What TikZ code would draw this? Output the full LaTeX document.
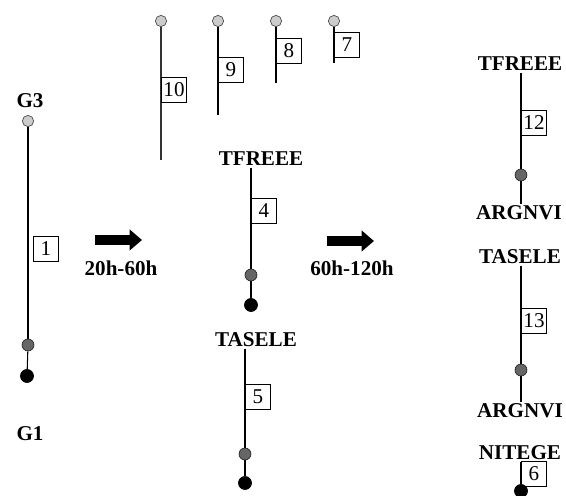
\documentclass[tikz,border=0pt]{standalone}
\usepackage{fontspec}
\setmainfont{Liberation Serif}
\usetikzlibrary{arrows.meta,calc}
\tikzset{
  cir_l/.style = {circle, draw=black!70, fill=black!20, inner sep=0pt, minimum size=6.4pt},
  cir_d/.style = {circle, draw=black!85, fill=black!60, inner sep=0pt, minimum size=6.8pt},
  cir_b/.style = {circle, draw=black, fill=black, inner sep=0pt, minimum size=7.4pt},
  num_b/.style = {draw, anchor=west, inner sep=1pt, minimum width=14.4pt, minimum height=14.6pt, font=\fontsize{12}{13}\selectfont},
  lab_g/.style = {font=\fontsize{12}{13}\selectfont\bfseries, inner sep=1pt},
  stem/.style = {line width=0.6pt},
  fat_arr/.style = {line width=5.7pt, -{Triangle[length=7pt,width=11.5pt]}}
}

\begin{document}
\begin{tikzpicture}[x=0.02cm, y=-0.02cm]
\useasboundingbox (0,0) rectangle (566,496);

% starting chain
\node [lab_g] (g3) at (30,101) {G3};
\node [cir_l] (lc1) at (28,121) {};
\node [cir_d] (dc1) at (28,345) {};
\node [cir_b] (bc1) at (27,376) {};
\node [lab_g] (g1) at (30,434) {G1};
\draw [stem] (lc1) -- (dc1);
\draw [stem] (dc1) -- (bc1);
\node [num_b] (n1) at (33,249) {1};

% fragments cut off at the top
\node [cir_l] (lc10) at (161,21) {};
\coordinate (e10) at (161,160);
\draw [stem, black!80] (lc10) -- (e10);
\node [num_b] (n10) at (161,90) {10};
\node [cir_l] (lc9) at (218,21) {};
\coordinate (e9) at (218,115);
\draw [stem] (lc9) -- (e9);
\node [num_b] (n9) at (218,70) {9};
\node [cir_l] (lc8) at (276,21) {};
\coordinate (e8) at (276,83);
\draw [stem] (lc8) -- (e8);
\node [num_b] (n8) at (276,51) {8};
\node [cir_l] (lc7) at (334,21) {};
\coordinate (e7) at (334,63);
\draw [stem] (lc7) -- (e7);
\node [num_b] (n7) at (334,45) {7};

% first step
\coordinate (a1s) at (95,240);
\coordinate (a1e) at (142,240);
\draw [fat_arr] (a1s) -- (a1e);
\node [lab_g] (t1) at (121,268) {20h-60h};

\node [lab_g] (tf4) at (261,159) {TFREEE};
\node [cir_d] (dc4) at (251,275) {};
\node [cir_b] (bc4) at (251,305) {};
\draw [stem] (dc4 |- tf4.south) -- (dc4);
\draw [stem] (dc4) -- (bc4);
\node [num_b] (n4) at (251,211) {4};

\node [lab_g] (ts5) at (256,340) {TASELE};
\node [cir_d] (dc5) at (245,454) {};
\node [cir_b] (bc5) at (245,483) {};
\draw [stem] (dc5 |- ts5.south) -- (dc5);
\draw [stem] (dc5) -- (bc5);
\node [num_b] (n5) at (245,397) {5};

% second step
\coordinate (a2s) at (327,241);
\coordinate (a2e) at (374,241);
\draw [fat_arr] (a2s) -- (a2e);
\node [lab_g] (t2) at (352,268) {60h-120h};

\node [lab_g] (tf12) at (520,64) {TFREEE};
\node [cir_d] (dc12) at (521,175) {};
\node [lab_g] (ar12) at (519,213) {ARGNVI};
\draw [stem] (dc12 |- tf12.south) -- (dc12);
\draw [stem] (dc12) -- (dc12 |- ar12.north);
\node [num_b] (n12) at (521,123) {12};

\node [lab_g] (ts13) at (520,257) {TASELE};
\node [cir_d] (dc13) at (521,370) {};
\node [lab_g] (ar13) at (520,411) {ARGNVI};
\draw [stem] (dc13 |- ts13.south) -- (dc13);
\draw [stem] (dc13) -- (dc13 |- ar13.north);
\node [num_b] (n13) at (521,321) {13};

\node [lab_g] (ni6) at (520,453) {NITEGE};
\node [cir_b] (bc6) at (521,491) {};
\draw [stem] (bc6 |- ni6.south) -- (bc6);
\node [num_b] (n6) at (521,474) {6};
\end{tikzpicture}
\end{document}
